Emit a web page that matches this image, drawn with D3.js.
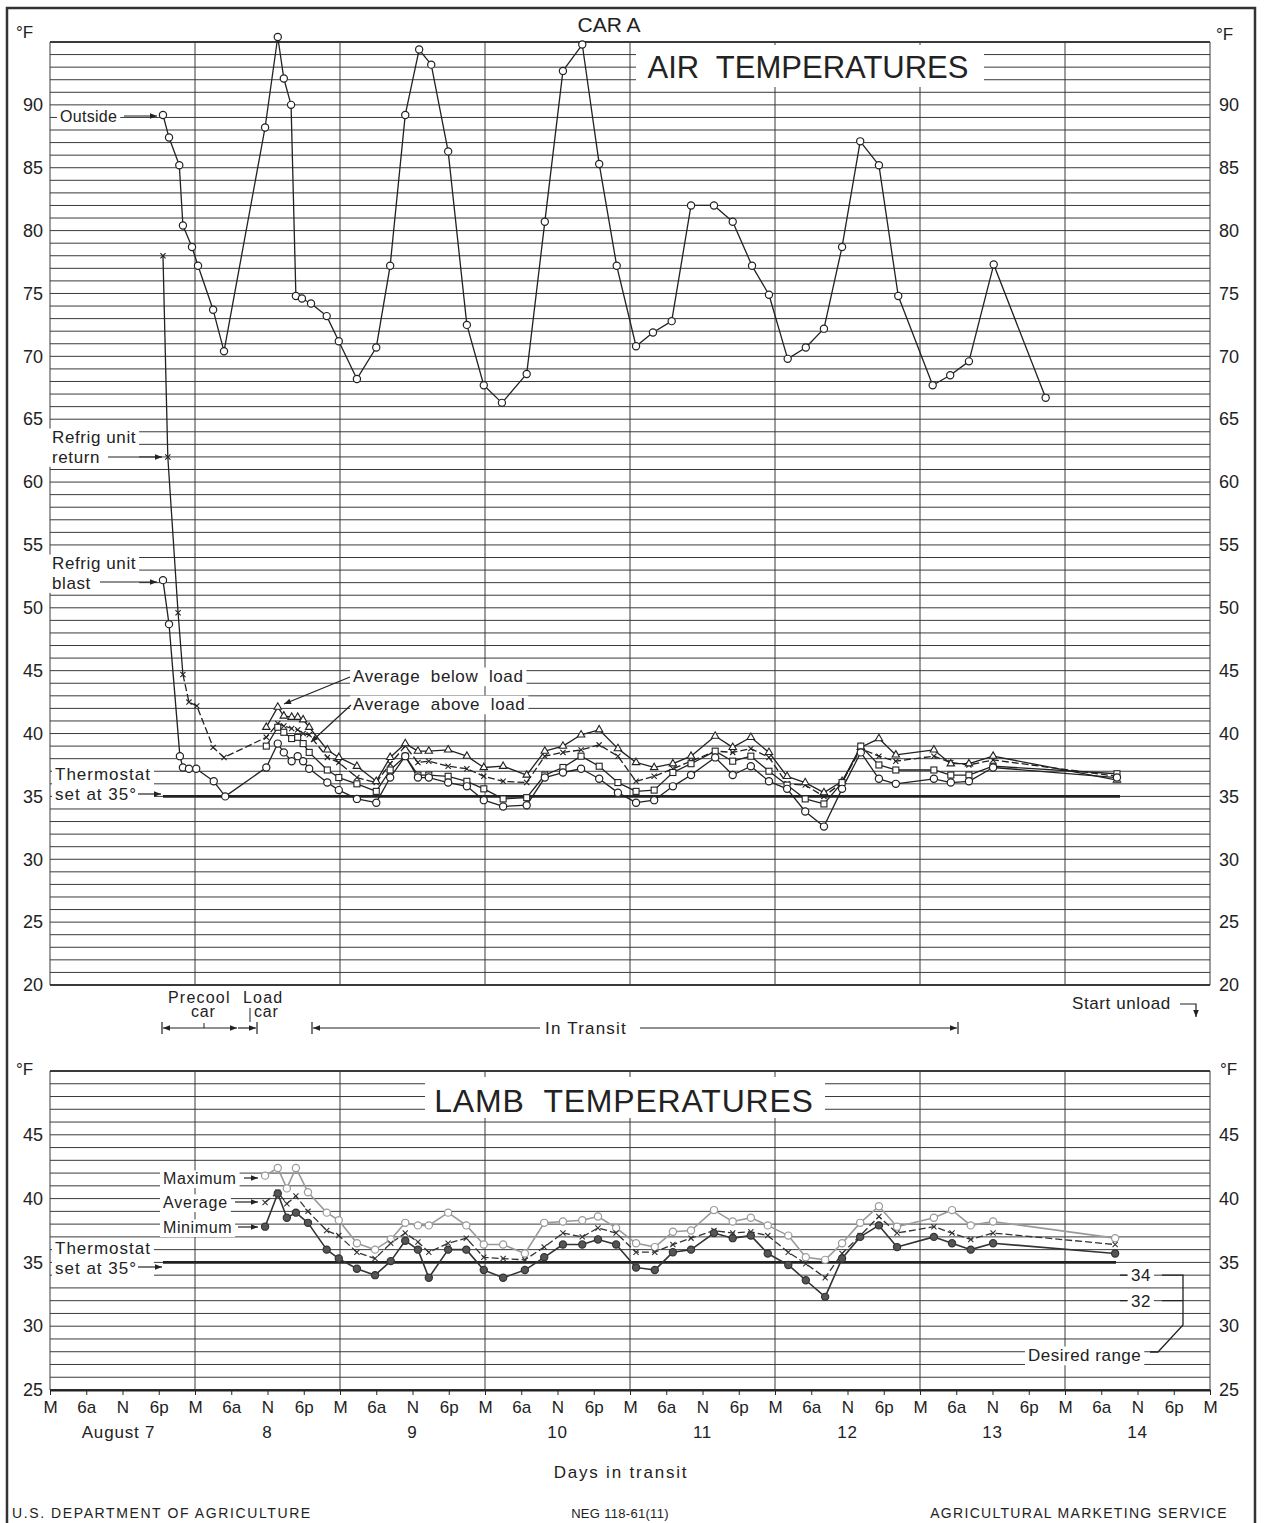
<!DOCTYPE html>
<html>
<head>
<meta charset="utf-8">
<script src="https://cdn.jsdelivr.net/npm/d3@7"></script>
<style>
body{margin:0;background:#fff}
svg text{font-family:"Liberation Sans",Arial,sans-serif;fill:#222}
</style>
</head>
<body>
<svg id="chart" width="1264" height="1523"></svg>
<script>
// hours are counted from midnight starting August 7
const hourLabels = ['M','6a','N','6p'];
const dayLabels = ['August 7','8','9','10','11','12','13','14'];
const airTicks = [20,25,30,35,40,45,50,55,60,65,70,75,80,85,90];
const lambTicks = [25,30,35,40,45];
const thermostat = 35;

const outsideHours = [18.7,19.7,21.4,22.0,23.5,24.5,27.0,28.8,35.6,37.7,38.7,39.9,40.7,41.7,43.2,45.8,47.8,50.8,54.0,56.3,
  58.8,61.1,63.1,65.9,69.0,71.8,74.8,78.9,81.9,84.9,88.1,90.9,93.8,97.0,99.8,102.9,106.1,109.9,113.0,116.2,
  119.0,122.1,125.1,128.1,131.1,134.1,137.2,140.4,146.1,149.0,152.1,156.2,164.8];
const outsideTemps = [89.2,87.4,85.2,80.4,78.7,77.2,73.7,70.4,88.2,95.4,92.1,90.0,74.8,74.6,74.2,73.2,71.2,68.2,70.7,77.2,
  89.2,94.4,93.2,86.3,72.5,67.7,66.3,68.6,80.7,92.7,94.8,85.3,77.2,70.8,71.9,72.8,82.0,82.0,80.7,77.2,
  74.9,69.8,70.7,72.2,78.7,87.1,85.2,74.8,67.7,68.5,69.6,77.3,66.7];

// readings taken after the car was loaded
const loadHours = [35.8,37.7,38.7,40.0,41.0,41.9,42.9,45.9,47.8,50.8,54.0,56.3,58.8,60.9,62.7,65.9,69.0,71.8,75.0,78.9,
  81.9,84.9,87.9,90.9,94.0,97.0,100.0,103.1,106.1,110.1,113.0,116.0,119.0,122.0,125.0,128.1,131.1,134.2,137.2,140.0,
  146.3,149.1,152.1,156.1,176.6];
const belowLoadTemps = [40.5,42.1,41.4,41.3,41.3,41.1,40.5,38.7,38.1,37.4,36.2,38.1,39.2,38.6,38.6,38.7,38.2,37.3,37.4,36.7,
  38.6,39.0,39.9,40.3,38.8,37.7,37.3,37.6,38.2,39.8,38.9,39.7,38.5,36.6,36.1,35.3,36.2,38.9,39.6,38.3,
  38.7,37.6,37.6,38.2,36.3];
const aboveLoadTemps = [39.0,40.5,40.1,39.6,39.7,39.2,38.5,37.1,36.5,36.0,35.4,37.1,38.2,36.7,36.7,36.6,36.2,35.6,34.8,34.9,
  36.7,37.3,38.2,37.4,36.1,35.4,35.5,36.9,37.6,38.6,37.8,38.2,37.0,35.9,34.8,34.4,36.1,39.0,37.5,37.1,
  37.1,36.7,36.7,37.4,36.8];

const blastHours = [18.7,19.7,21.5,22.0,23.0,24.2,27.1,29.0].concat(loadHours);
const blastTemps = [52.2,48.7,38.2,37.3,37.2,37.2,36.2,35.0,
  37.3,39.2,38.5,37.8,38.2,37.8,37.2,36.1,35.5,34.8,34.5,36.5,38.2,36.5,36.5,36.1,35.8,34.7,34.2,34.3,
  36.5,36.9,37.2,36.4,35.3,34.5,34.7,35.8,36.7,38.1,36.7,37.4,36.2,35.6,33.8,32.6,35.6,38.5,36.4,36.0,
  36.4,36.1,36.2,37.3,36.5];
const returnHours = [18.7,19.5,21.2,22.0,23.0,24.3,27.0,28.8].concat(loadHours);
const returnTemps = [78.0,62.0,49.6,44.7,42.5,42.2,38.9,38.1,
  39.7,40.8,40.6,40.4,40.3,40.0,39.9,38.1,37.7,36.5,36.1,37.6,39.0,37.7,37.8,37.4,37.2,36.6,36.2,36.1,
  38.2,38.5,38.7,39.1,38.2,36.2,36.6,37.2,37.8,38.6,38.5,38.8,38.1,36.0,35.9,35.0,36.1,38.8,38.2,37.8,
  38.2,37.7,37.5,37.9,36.6];

const lambHours = [35.6,37.7,39.2,40.7,42.7,45.8,47.8,50.8,53.8,56.4,58.8,60.9,62.7,65.9,68.9,71.8,75.0,78.6,81.8,84.9,
  88.1,90.7,93.7,97.0,100.1,103.1,106.1,109.9,113.0,116.0,118.8,122.2,125.1,128.3,131.1,134.1,137.2,140.2,146.3,149.3,
  152.4,156.1,176.3];
const lambMax = [41.8,42.4,40.8,42.4,40.5,38.9,38.3,36.5,36.0,36.8,38.1,37.9,37.9,38.9,37.9,36.4,36.4,35.7,38.1,38.2,
  38.3,38.6,37.7,36.5,36.2,37.4,37.5,39.1,38.2,38.5,37.9,37.1,35.4,35.2,36.5,38.1,39.4,37.8,38.5,39.1,
  37.9,38.2,36.9];
const lambAvg = [39.7,40.5,39.6,40.2,39.0,37.5,37.1,35.8,35.3,36.5,37.3,36.6,35.8,36.5,36.9,35.4,35.3,35.2,36.2,37.3,
  37.0,37.7,37.3,35.8,35.8,36.4,36.9,37.5,37.3,37.4,37.1,35.8,34.9,33.8,35.7,37.1,38.6,37.3,37.8,37.3,
  36.8,37.3,36.4];
const lambMin = [37.8,40.4,38.5,38.9,38.1,36.0,35.3,34.5,34.0,35.1,36.7,36.0,33.8,36.0,36.0,34.4,33.8,34.4,35.4,36.4,
  36.4,36.8,36.4,34.6,34.4,35.8,36.0,37.3,36.9,37.1,35.7,34.8,33.6,32.3,35.3,37.0,37.9,36.2,37.0,36.5,
  36.0,36.5,35.7];

const svg = d3.select('#chart');
const x = d3.scaleLinear().domain([0,192]).range([50,1210]);
const yAir = d3.scaleLinear().domain([20,95]).range([985,42]);
const yLamb = d3.scaleLinear().domain([25,50]).range([1390,1071]);
const ink = '#222';

const defs = svg.append('defs');
defs.append('marker').attr('id','ah').attr('viewBox','0 0 10 10')
  .attr('refX',10).attr('refY',5).attr('markerWidth',9).attr('markerHeight',7)
  .attr('markerUnits','userSpaceOnUse').attr('orient','auto-start-reverse')
  .append('path').attr('d','M0,1L10,5L0,9Z').attr('fill',ink);

// page frame
svg.append('path').attr('d','M7,1523V8H1255V1523').attr('fill','none').attr('stroke','#333').attr('stroke-width',2.5);

function grid(y, lo, hi) {
  const g = svg.append('g');
  g.selectAll('.h').data(d3.range(lo, hi+1)).enter().append('line')
    .attr('x1',x(0)).attr('x2',x(192)).attr('y1',d=>y(d)).attr('y2',d=>y(d))
    .attr('stroke','#3a3a3a').attr('stroke-width',d=> (d===lo||d===hi)?1.8:1);
  g.selectAll('.v').data(d3.range(0,193,24)).enter().append('line')
    .attr('x1',d=>x(d)).attr('x2',d=>x(d)).attr('y1',y(hi)).attr('y2',y(lo))
    .attr('stroke','#3a3a3a').attr('stroke-width',1);
  return g;
}
grid(yAir,20,95);
grid(yLamb,25,50);

// y labels on both sides
function yLabels(y, ticks) {
  svg.append('g').attr('transform','translate(43,0)')
    .call(d3.axisLeft(y).tickValues(ticks).tickSize(0).tickPadding(0))
    .call(g=>g.select('.domain').remove())
    .selectAll('text').attr('font-size',18).attr('font-family','Liberation Sans').attr('fill',ink);
  svg.append('g').attr('transform','translate(1219,0)')
    .call(d3.axisRight(y).tickValues(ticks).tickSize(0).tickPadding(0))
    .call(g=>g.select('.domain').remove())
    .selectAll('text').attr('font-size',18).attr('font-family','Liberation Sans').attr('fill',ink);
}
yLabels(yAir, airTicks);
yLabels(yLamb, lambTicks);
[[16,38],[1216,40],[16,1075],[1220,1075]].forEach(p=>
  svg.append('text').attr('x',p[0]).attr('y',p[1]).attr('font-size',17).text('°F'));

// text with a white box behind it, breaking the grid
function note(x0, y0, lines, size, spacing) {
  const g = svg.append('g');
  const bg = g.append('rect').attr('fill','#fff');
  const t = g.append('text').attr('x',x0).attr('y',y0).attr('font-size',size)
    .attr('letter-spacing',spacing||0).attr('xml:space','preserve');
  const spans = lines.map((s,i)=>t.append('tspan').attr('x',x0).attr('dy',i?size*1.15:0).text(s));
  const w = d3.max(spans, s=>s.node().getComputedTextLength());
  bg.attr('x',x0-3).attr('y',y0-size*0.85).attr('width',w+6)
    .attr('height',size*(1.15*(lines.length-1)+1.1));
  return g;
}
function arrow(x1,y1,x2,y2,both) {
  svg.append('line').attr('x1',x1).attr('y1',y1).attr('x2',x2).attr('y2',y2)
    .attr('stroke',ink).attr('stroke-width',1.2)
    .attr('marker-end','url(#ah)').attr('marker-start',both?'url(#ah)':null);
}
function label(x0, y0, s, size, spacing, anchor) {
  return svg.append('text').attr('x',x0).attr('y',y0).attr('font-size',size)
    .attr('letter-spacing',spacing||0).attr('text-anchor',anchor||'start').text(s);
}

// titles
svg.append('rect').attr('x',636).attr('y',45).attr('width',348).attr('height',42).attr('fill','#fff');
label(808,78,'AIR  TEMPERATURES',31,0,'middle').attr('xml:space','preserve');
svg.append('rect').attr('x',425).attr('y',1077).attr('width',400).attr('height',41).attr('fill','#fff');
label(624,1112,'LAMB  TEMPERATURES',32,0.8,'middle').attr('xml:space','preserve');
svg.append('rect').attr('x',570).attr('y',12).attr('width',80).attr('height',24).attr('fill','#fff');
label(609,32,'CAR A',21,0,'middle');

// labels on the air panel
note(60,122,['Outside'],16,0.3); arrow(124,116,157,116);
note(52,443,['Refrig unit','return'],17,0.6); arrow(108,457,162,457);
note(52,569,['Refrig unit','blast'],17,0.6); arrow(100,582,157,582);
note(55,780,['Thermostat','set at 35°'],17,1); arrow(138,794,161,794);
note(353,682,['Average  below  load'],17,0.6);
note(353,710,['Average  above  load'],17,0.6);
arrow(350,677,284,704); arrow(351,705,311,742);

// labels on the lamb panel
note(163,1184,['Maximum'],16,0.6); arrow(244,1178,258,1178);
note(163,1208,['Average'],16,0.8); arrow(235,1202,258,1202);
note(163,1233,['Minimum'],16,0.6); arrow(238,1227,258,1227);
note(55,1254,['Thermostat','set at 35°'],17,1); arrow(138,1267,162,1267);

// thermostat lines
svg.append('line').attr('x1',163).attr('x2',1120).attr('y1',yAir(thermostat)).attr('y2',yAir(thermostat))
  .attr('stroke',ink).attr('stroke-width',2.6);
svg.append('line').attr('x1',163).attr('x2',1116).attr('y1',yLamb(thermostat)).attr('y2',yLamb(thermostat))
  .attr('stroke',ink).attr('stroke-width',2.6);

// series drawing
function linePath(hours, temps, y, stroke, width, dash) {
  svg.append('path').attr('d',d3.line()(hours.map((h,i)=>[x(h),y(temps[i])])))
    .attr('fill','none').attr('stroke',stroke).attr('stroke-width',width)
    .attr('stroke-dasharray',dash||null).attr('stroke-linejoin','round');
}
function marks(hours, temps, y, kind, stroke, fill) {
  const g = svg.append('g');
  const pts = hours.map((h,i)=>[x(h),y(temps[i])]);
  const sel = g.selectAll('.m').data(pts).enter();
  if (kind==='circle') {
    sel.append('circle').attr('cx',d=>d[0]).attr('cy',d=>d[1]).attr('r',3.6)
      .attr('fill',fill||'#fff').attr('stroke',stroke).attr('stroke-width',1.2);
  } else if (kind==='x') {
    sel.append('path').attr('d',d=>`M${d[0]-2.6},${d[1]-2.6}L${d[0]+2.6},${d[1]+2.6}M${d[0]-2.6},${d[1]+2.6}L${d[0]+2.6},${d[1]-2.6}`)
      .attr('stroke',stroke).attr('stroke-width',1.1);
  } else if (kind==='tri') {
    sel.append('path').attr('d',d3.symbol(d3.symbolTriangle,24))
      .attr('transform',d=>`translate(${d[0]},${d[1]})`)
      .attr('fill','#fff').attr('stroke',stroke).attr('stroke-width',1.1);
  } else {
    sel.append('rect').attr('x',d=>d[0]-3).attr('y',d=>d[1]-3).attr('width',6).attr('height',6)
      .attr('fill','#fff').attr('stroke',stroke).attr('stroke-width',1.1);
  }
}

linePath(outsideHours, outsideTemps, yAir, ink, 1.3);
linePath(blastHours, blastTemps, yAir, ink, 1.3);
linePath(returnHours.slice(0,4), returnTemps.slice(0,4), yAir, ink, 1.3);
linePath(returnHours.slice(3), returnTemps.slice(3), yAir, ink, 1.3, '7,3');
linePath(loadHours, belowLoadTemps, yAir, ink, 1.3);
linePath(loadHours, aboveLoadTemps, yAir, ink, 1.3);
marks(outsideHours, outsideTemps, yAir, 'circle', ink);
marks(returnHours, returnTemps, yAir, 'x', ink);
marks(loadHours, belowLoadTemps, yAir, 'tri', ink);
marks(loadHours, aboveLoadTemps, yAir, 'sq', ink);
marks(blastHours, blastTemps, yAir, 'circle', ink);

linePath(lambHours, lambMax, yLamb, '#9a9a9a', 1.6);
linePath(lambHours, lambAvg, yLamb, '#333', 1.3, '7,3');
linePath(lambHours, lambMin, yLamb, '#333', 1.6);
marks(lambHours, lambMax, yLamb, 'circle', '#9a9a9a');
marks(lambHours, lambAvg, yLamb, 'x', '#333');
marks(lambHours, lambMin, yLamb, 'circle', '#333', '#555');

// desired range bracket
const y34 = yLamb(34), y32 = yLamb(32);
note(1131,y34+6,['34'],17,0.5); note(1131,y32+6,['32'],17,0.5);
svg.append('path').attr('fill','none').attr('stroke',ink).attr('stroke-width',1.3)
  .attr('d',`M1120,${y34}H1127M1162,${y34}H1183V1325L1158,1352H1150M1120,${y32}H1127M1162,${y32}H1183`);
note(1028,1361,['Desired range'],17,0.5);

// activity periods under the air panel
label(168,1003,'Precool',16,1.2);
label(191,1017,'car',16,0.8);
label(243,1003,'Load',16,1.2);
label(254,1017,'car',16,0.8);
const yBar = 1028;
function bar(xp){svg.append('line').attr('x1',xp).attr('x2',xp).attr('y1',yBar-6).attr('y2',yBar+6).attr('stroke',ink).attr('stroke-width',1.2);}
bar(162); bar(312); bar(958); bar(257);
arrow(163,yBar,237,yBar,true);
svg.append('line').attr('x1',204).attr('x2',204).attr('y1',yBar).attr('y2',yBar-5).attr('stroke',ink);
arrow(238,yBar,256,yBar);
svg.append('line').attr('x1',250).attr('x2',250).attr('y1',1008).attr('y2',1022).attr('stroke',ink);
arrow(540,yBar,313,yBar);
label(545,yBar+6,'In Transit',17,1.2);
arrow(640,yBar,957,yBar);
label(1072,1009,'Start unload',17,0.6);
svg.append('path').attr('d','M1180,1004H1196V1017').attr('fill','none').attr('stroke',ink).attr('stroke-width',1.2)
  .attr('marker-end','url(#ah)');

// time axis
const xAxis = svg.append('g').attr('transform','translate(0,1390)')
  .call(d3.axisBottom(x).tickValues(d3.range(0,193,6)).tickFormat(h=>hourLabels[(h/6)%4])
    .tickSize(5).tickSizeOuter(0).tickPadding(6));
xAxis.select('.domain').attr('stroke',ink).attr('stroke-width',1.8);
xAxis.selectAll('line').attr('stroke',ink);
xAxis.selectAll('text').attr('font-size',17).attr('font-family','Liberation Sans').attr('fill',ink);
svg.append('g').selectAll('text').data(dayLabels).enter().append('text')
  .attr('x',(d,i)=>x(i*24+12)-(i===0?4:0)).attr('y',1438).attr('text-anchor','middle')
  .attr('font-size',17).attr('letter-spacing',0.8).text(d=>d);
label(621,1478,'Days in transit',17,1.8,'middle');

// footer
label(12,1518,'U.S. DEPARTMENT OF AGRICULTURE',14,1.6);
label(620,1518,'NEG 118-61(11)',13,0.3,'middle');
label(1228,1518,'AGRICULTURAL MARKETING SERVICE',14,1.3,'end');
</script>
</body>
</html>
